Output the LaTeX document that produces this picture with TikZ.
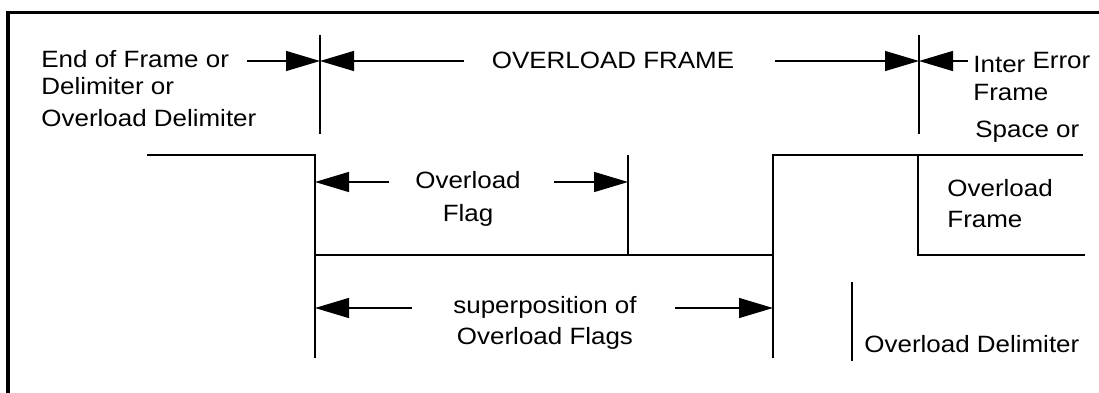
\documentclass[tikz,border=0pt]{standalone}
\usepackage{fontspec}
\setmainfont{Liberation Sans}[FakeStretch=1.1]
\usetikzlibrary{arrows.meta}
\tikzset{
  sig/.style={line width=1.25pt},
  marker/.style={line width=0.7pt},
  dimarrow/.style={line width=0.7pt,-{Triangle[length=17pt,width=10pt]}},
  lbl/.style={inner sep=0pt,font=\fontsize{11.8pt}{14.5pt}\selectfont,align=left},
}
\begin{document}
\begin{tikzpicture}[x=0.5pt,y=-0.5pt]
\useasboundingbox (0,0) rectangle (1099,392);
\clip (0,0) rectangle (1099,392);
\draw[line width=1.6pt] (8,12.5) rectangle (1130,430);
% frame boundaries
\coordinate (sofTop) at (320,35);
\coordinate (sofBot) at (320,134);
\coordinate (eofTop) at (919,35);
\coordinate (eofBot) at (919,134);
\draw[marker] (sofTop) -- (sofBot);
\draw[marker] (eofTop) -- (eofBot);
% labels (multi-line ones sit on their last baseline)
\node[lbl,anchor=base west] (prev) at (41,126)
  {End of Frame or\\[-1pt]Delimiter or\\[1.5pt]Overload Delimiter};
\node[lbl,anchor=base] (ovlframe) at (613,68) {OVERLOAD FRAME};
\node[lbl,anchor=base west] (interr) at (973,68) {\raisebox{-2pt}{Inter} Error};
\node[lbl,anchor=base west] (interfr) at (973,100) {Frame};
\node[lbl,anchor=base west] (interspc) at (975,137) {Space or};
\node[lbl,anchor=base,align=center] (flag) at (468,221) {Overload\\[2pt]Flag};
\node[lbl,anchor=base,align=center] (superpos) at (545,344)
  {superposition of\\[1pt]Overload Flags};
\node[lbl,anchor=base west] (nextfr) at (947,227) {Overload\\[1pt]Frame};
\node[lbl,anchor=base west] (ovldelim) at (864,352) {Overload Delimiter};
% arrow shaft ends
\coordinate (a1) at (247,61);
\coordinate (a2) at (464,61);
\coordinate (a3) at (775,61);
\coordinate (a4) at (968,61);
\coordinate (a5) at (389,182);
\coordinate (a6) at (554,182);
\coordinate (a7) at (412,308);
\coordinate (a8) at (675,308);
\draw[dimarrow] (a1) -- (sofTop |- a1);
\draw[dimarrow] (a2) -- (sofTop |- a2);
\draw[dimarrow] (a3) -- (eofTop |- a3);
\draw[dimarrow] (a4) -- (eofTop |- a4);
\draw[dimarrow] (a5) -- (315,182);
\draw[dimarrow] (a6) -- (628,182);
\draw[dimarrow] (a7) -- (315,308);
\draw[dimarrow] (a8) -- (773,308);
% bus levels
\draw[sig] (147,155) -- (315,155) -- (315,358);
\draw[sig] (315,255) -- (773,255);
\draw[sig] (628,155) -- (628,255);
\draw[sig] (773,358) -- (773,155) -- (1083,155);
\draw[sig] (918,155) -- (918,255) -- (1085,255);
\draw[marker] (852,282) -- (852,361);
\end{tikzpicture}
\end{document}
